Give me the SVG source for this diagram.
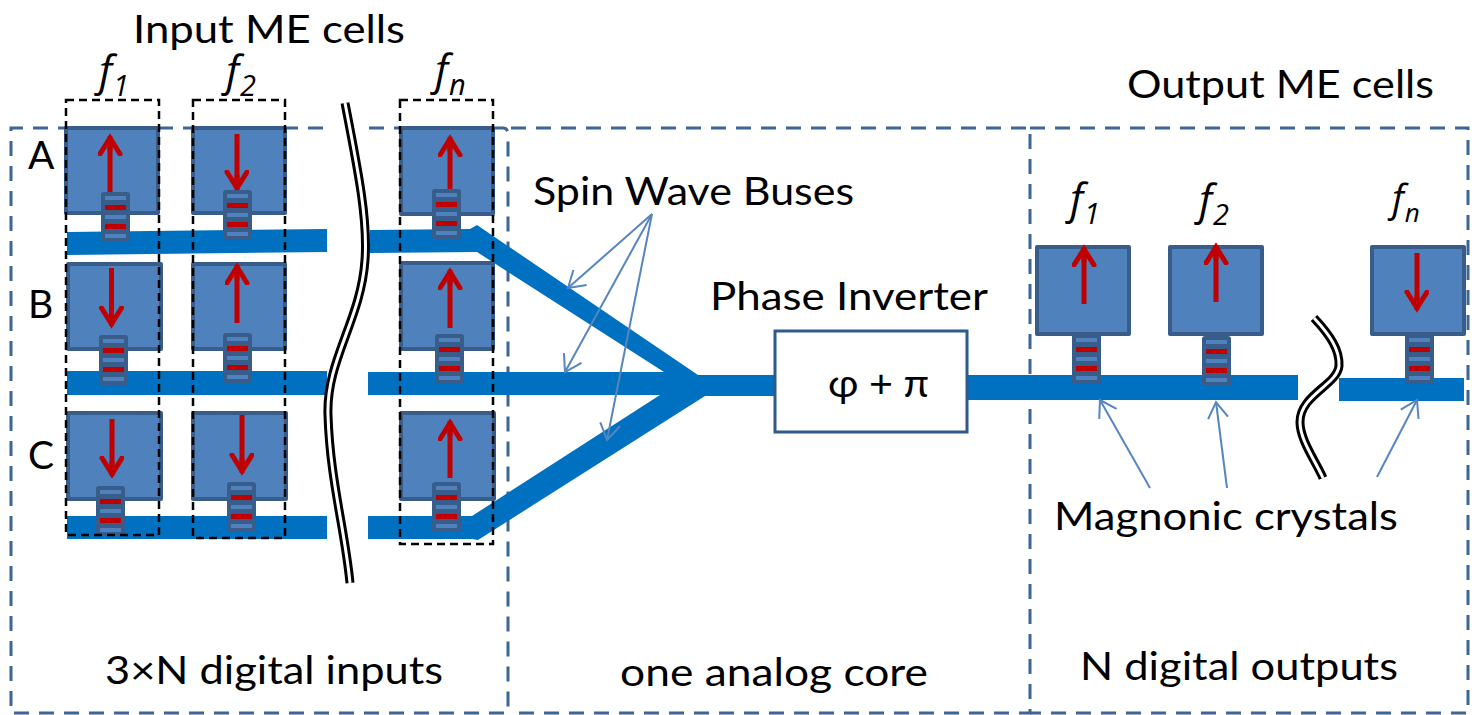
<svg xmlns="http://www.w3.org/2000/svg" width="1481" height="715" viewBox="0 0 1481 715">
<style>
text{font-family:"Lato","Open Sans","Liberation Sans",sans-serif;font-size:39px;fill:#000}
.f{font-family:"Open Sans","Liberation Sans",sans-serif;font-style:italic;font-size:42px}
.f tspan{font-size:29px}
.cell{fill:#4f81bd;stroke:#385d8a;stroke-width:4;stroke-linejoin:round}
.bus{fill:#0070c0}
.frame{fill:none;stroke:#3d6596;stroke-width:3;stroke-dasharray:15 10}
.col{fill:none;stroke:#000;stroke-width:2.5;stroke-dasharray:8 5}
.m{stroke:#c00000;stroke-width:5;fill:none;marker-end:url(#red)}
.t{stroke:#5685c0;stroke-width:2;fill:none;marker-end:url(#thin)}
.b1{fill:none;stroke:#000;stroke-width:9}
.b2{fill:none;stroke:#fff;stroke-width:3}
</style>
<defs>
<marker id="red" markerUnits="userSpaceOnUse" markerWidth="30" markerHeight="30" refX="20" refY="12" orient="auto"><path d="M2,2 L18,12 L2,22" fill="none" stroke="#c00000" stroke-width="5" stroke-linecap="round"/><path d="M5,12H18" stroke="#c00000" stroke-width="5"/></marker>
<marker id="thin" markerUnits="userSpaceOnUse" markerWidth="24" markerHeight="24" refX="20" refY="12" orient="auto"><path d="M4,2 L20,12 L4,22" fill="none" stroke="#5685c0" stroke-width="2"/></marker>
<g id="stack">
<rect x="0" y="0" width="29" height="50" rx="3" fill="#385d8a"/>
<rect x="4" y="4" width="21" height="4" fill="#4f81bd"/>
<rect x="4" y="13" width="21" height="5" fill="#c00000"/>
<rect x="4" y="23" width="21" height="4" fill="#4f81bd"/>
<rect x="4" y="32" width="21" height="5" fill="#c00000"/>
<rect x="4" y="42" width="21" height="4" fill="#4f81bd"/>
</g>
</defs>
<rect width="1481" height="715" fill="#fff"/>
<g id="frames">
<path class="frame" d="M323,128H11V713H508"/>
<path class="frame" d="M369,128H503Q508,128 508,135V713"/>
<path class="frame" d="M511,128H1030V713H511"/>
<path class="frame" d="M1030,128H1468V713H1030"/>
</g>
<g id="connectors">
<path class="bus" d="M67,232L327,229V252L67,255Z"/>
<path class="bus" d="M67,371H327V395H67Z"/>
<path class="bus" d="M67,516H327V539H67Z"/>
<path class="bus" d="M370,230L470,229L477,225L698,375H775V396H705L478,540L472,539H368V516H472L660,395H368V372H664L477,252L370,253Z"/>
<path class="bus" d="M965,375H1298V400H965Z"/>
<path class="bus" d="M1339,378H1464V401H1339Z"/>
<path class="b1" d="M345,103C358,170 368,220 365,260C361,320 326,360 328,415C330,480 345,530 350,583"/>
<path class="b2" d="M345,103C358,170 368,220 365,260C361,320 326,360 328,415C330,480 345,530 350,583"/>
<path class="b1" d="M1314,318C1330,335 1340,350 1339,366C1337,385 1300,395 1300,422C1300,440 1315,460 1323,478"/>
<path class="b2" d="M1314,318C1330,335 1340,350 1339,366C1337,385 1300,395 1300,422C1300,440 1315,460 1323,478"/>
<path class="t" d="M652,214L568,288"/>
<path class="t" d="M652,214L565,372"/>
<path class="t" d="M652,214L607,440"/>
<path class="t" d="M1150,488L1100,400"/>
<path class="t" d="M1227,488L1216,402"/>
<path class="t" d="M1377,477L1417,400"/>
</g>
<g id="cell-a1"><rect class="cell" x="66" y="128" width="92" height="85"/><path class="m" d="M110,192V136"/><use href="#stack" x="101" y="192"/></g>
<g id="cell-a2"><rect class="cell" x="193" y="128" width="92" height="85"/><path class="m" d="M237,134V190"/><use href="#stack" x="223" y="190"/></g>
<g id="cell-an"><rect class="cell" x="401" y="128" width="92" height="86"/><path class="m" d="M450,189V137"/><use href="#stack" x="432" y="189"/></g>
<g id="cell-b1"><rect class="cell" x="68" y="264" width="93" height="85"/><path class="m" d="M111.500,268V326"/><use href="#stack" x="99" y="335"/></g>
<g id="cell-b2"><rect class="cell" x="193" y="264" width="92" height="85"/><path class="m" d="M237,323V265"/><use href="#stack" x="223" y="333"/></g>
<g id="cell-bn"><rect class="cell" x="401" y="263" width="92" height="86"/><path class="m" d="M450,328V270"/><use href="#stack" x="435" y="334"/></g>
<g id="cell-c1"><rect class="cell" x="68" y="413" width="93" height="86"/><path class="m" d="M112,419V476"/><use href="#stack" x="96" y="486"/></g>
<g id="cell-c2"><rect class="cell" x="193" y="413" width="93" height="86"/><path class="m" d="M242,415V473"/><use href="#stack" x="227" y="482"/></g>
<g id="cell-cn"><rect class="cell" x="401" y="413" width="93" height="86"/><path class="m" d="M450,478V421"/><use href="#stack" x="432" y="482"/></g>
<g id="cell-o1"><rect class="cell" x="1037" y="247" width="92" height="87"/><path class="m" d="M1084,304V247"/><use href="#stack" x="1072" y="334"/></g>
<g id="cell-o2"><rect class="cell" x="1170" y="247" width="92" height="87"/><path class="m" d="M1216,302V245"/><use href="#stack" x="1202" y="336"/></g>
<g id="cell-on"><rect class="cell" x="1372" y="247" width="92" height="87"/><path class="m" d="M1417,253V310"/><use href="#stack" x="1405" y="334"/></g>
<g id="columns">
<rect class="col" x="66" y="100" width="93" height="435"/>
<rect class="col" x="193" y="100" width="92" height="438"/>
<rect class="col" x="400" y="100" width="93" height="444"/>
</g>
<g id="inverter"><rect x="775" y="331" width="192" height="101" fill="#fff" stroke="#2f5a8a" stroke-width="3"/><text x="828" y="397" textLength="101" lengthAdjust="spacingAndGlyphs">φ + π</text></g>
<g id="labels">
<text x="133" y="43" textLength="272" lengthAdjust="spacingAndGlyphs">Input ME cells</text>
<text x="1127" y="98" textLength="307" lengthAdjust="spacingAndGlyphs">Output ME cells</text>
<text x="533" y="205" textLength="321" lengthAdjust="spacingAndGlyphs">Spin Wave Buses</text>
<text x="710" y="310" textLength="278" lengthAdjust="spacingAndGlyphs">Phase Inverter</text>
<text x="1054" y="530" textLength="344" lengthAdjust="spacingAndGlyphs">Magnonic crystals</text>
<text x="105" y="684" textLength="338" lengthAdjust="spacingAndGlyphs">3×N digital inputs</text>
<text x="620" y="686" textLength="308" lengthAdjust="spacingAndGlyphs">one analog core</text>
<text x="1080" y="680" textLength="318" lengthAdjust="spacingAndGlyphs">N digital outputs</text>
<text x="28" y="169">A</text>
<text x="28" y="318">B</text>
<text x="28" y="469">C</text>
<text class="f" x="99" y="86">f<tspan dx="1" dy="10">1</tspan></text>
<text class="f" x="226" y="86">f<tspan dx="1" dy="10">2</tspan></text>
<text class="f" x="435" y="85">f<tspan dx="1" dy="10">n</tspan></text>
<text class="f" x="1070" y="214">f<tspan dx="1" dy="10">1</tspan></text>
<text class="f" x="1199" y="215">f<tspan dx="1" dy="10">2</tspan></text>
<text class="f" x="1392" y="212" style="font-size:38px">f<tspan dx="1" dy="10" style="font-size:26px">n</tspan></text>
</g>
</svg>
